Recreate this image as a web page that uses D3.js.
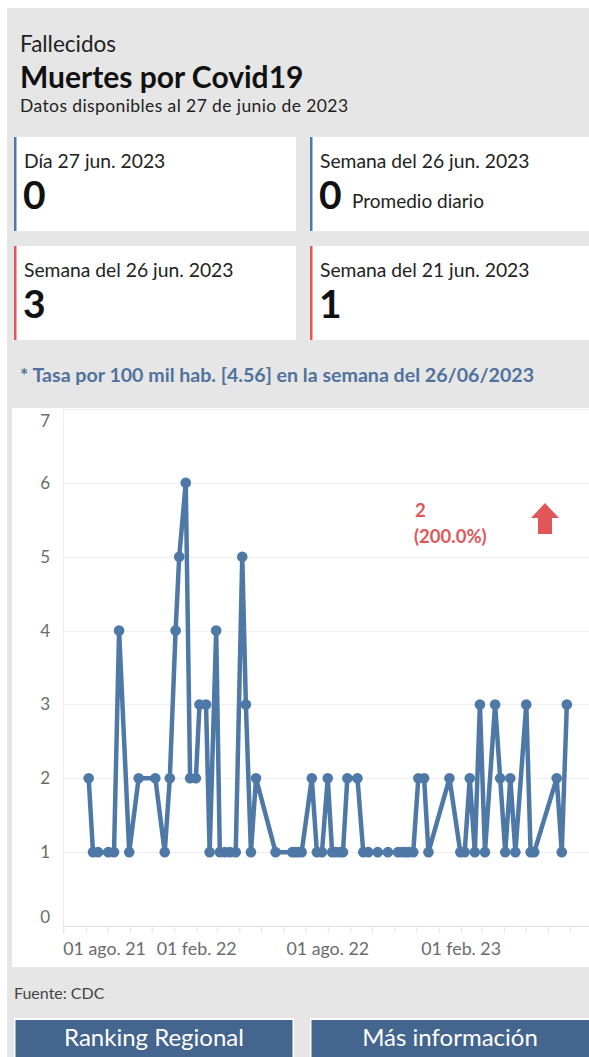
<!DOCTYPE html>
<html>
<head>
<meta charset="utf-8">
<script src="https://cdn.jsdelivr.net/npm/d3@7"></script>
<style>
  html, body { margin: 0; padding: 0; background: #fff; }
  svg { display: block; font-family: Lato, "Open Sans", sans-serif; }
</style>
</head>
<body>
<div id="chart"></div>
<script>
// fechas con fallecidos (los días sin muertes no se reportan)
const dates = [
  "2021-09-05","2021-09-11","2021-09-18","2021-10-02","2021-10-10","2021-10-17","2021-10-31","2021-11-13",
  "2021-12-06","2021-12-19","2021-12-26","2022-01-03","2022-01-08","2022-01-17","2022-01-23","2022-01-31",
  "2022-02-05","2022-02-14","2022-02-19","2022-02-28","2022-03-05","2022-03-12","2022-03-19","2022-03-27",
  "2022-04-05","2022-04-10","2022-04-17","2022-04-24","2022-05-21","2022-06-13","2022-06-17","2022-06-21",
  "2022-06-26","2022-07-10","2022-07-17","2022-07-24","2022-08-01","2022-08-07","2022-08-12","2022-08-18",
  "2022-08-22","2022-08-28","2022-09-11","2022-09-19","2022-09-26","2022-10-09","2022-10-23","2022-11-06",
  "2022-11-12","2022-11-17","2022-11-21","2022-11-27","2022-12-04","2022-12-12","2022-12-18","2023-01-16",
  "2023-01-31","2023-02-06","2023-02-13","2023-02-20","2023-02-27","2023-03-06","2023-03-20","2023-03-27",
  "2023-04-03","2023-04-10","2023-04-17","2023-05-02","2023-05-08","2023-05-13","2023-06-13","2023-06-20",
  "2023-06-27"
];
const deaths = [
  2,1,1,1,1,4,1,2,
  2,1,2,4,5,6,2,2,
  3,3,1,4,1,1,1,1,
  5,3,1,2,1,1,1,1,
  1,2,1,1,2,1,1,1,
  1,2,2,1,1,1,1,1,
  1,1,1,1,2,2,1,2,
  1,1,2,1,3,1,3,2,
  1,2,1,3,1,1,2,1,
  3
];

const yTicks = [0, 1, 2, 3, 4, 5, 6, 7];
const xLabelDates = ["2021-08-01", "2022-02-01", "2022-08-01", "2023-02-01"];
const xLabels = ["01 ago. 21", "01 feb. 22", "01 ago. 22", "01 feb. 23"];

const kpiLabels = ["Día 27 jun. 2023", "Semana del 26 jun. 2023", "Semana del 26 jun. 2023", "Semana del 21 jun. 2023"];
const kpiValues = ["0", "0", "3", "1"];
const kpiNotes = ["", "Promedio diario", "", ""];
const kpiColors = ["#4e79a7", "#4e79a7", "#e15759", "#e15759"];

const changeValue = "2";
const changePct = "(200.0%)";

const W = 589, H = 1057;
const parse = d3.timeParse("%Y-%m-%d");
const data = dates.map((d, i) => ({ date: parse(d), value: deaths[i] }));

const svg = d3.select("#chart").append("svg")
  .attr("width", W).attr("height", H);

// panel gris de fondo
svg.append("rect").attr("x", 7).attr("y", 8).attr("width", W).attr("height", H)
  .attr("fill", "#e6e6e6");

// encabezado
svg.append("text").attr("x", 20).attr("y", 52).attr("font-size", 22.5).attr("fill", "#222")
  .text("Fallecidos");
svg.append("text").attr("x", 20).attr("y", 87.5).attr("font-size", 30).attr("font-weight", 700).attr("fill", "#111")
  .text("Muertes por Covid19");
svg.append("text").attr("x", 20).attr("y", 111.5).attr("font-size", 17.5).attr("letter-spacing", 0.4)
  .attr("fill", "#222")
  .text("Datos disponibles al 27 de junio de 2023");

// tarjetas KPI
const cardX = [14, 310], cardY = [137, 246];
kpiLabels.forEach((lab, i) => {
  const x = cardX[i % 2], y = cardY[Math.floor(i / 2)];
  const g = svg.append("g").attr("transform", `translate(${x},${y})`);
  g.append("rect").attr("width", i % 2 ? 300 : 282).attr("height", 94).attr("fill", "#fff");
  g.append("rect").attr("width", 2.5).attr("height", 94).attr("fill", kpiColors[i]);
  g.append("text").attr("x", 10).attr("y", 31).attr("font-size", 19.3).attr("fill", "#222").text(lab);
  g.append("text").attr("x", 9).attr("y", 72).attr("font-size", 39).attr("font-weight", 700).attr("fill", "#111")
    .text(kpiValues[i]);
  if (kpiNotes[i]) {
    g.append("text").attr("x", 42).attr("y", 71).attr("font-size", 19).attr("fill", "#222").text(kpiNotes[i]);
  }
});

svg.append("text").attr("x", 20).attr("y", 382).attr("font-size", 19.6).attr("font-weight", 700)
  .attr("fill", "#50729c")
  .text("* Tasa por 100 mil hab. [4.56] en la semana del 26/06/2023");

// área del gráfico
svg.append("rect").attr("x", 12).attr("y", 408).attr("width", W).attr("height", 559).attr("fill", "#fff");

const x = d3.scaleTime()
  .domain([parse("2021-08-01"), parse("2023-08-01")])
  .range([63.3, 592.2]);
const y = d3.scaleLinear().domain([0, 7]).range([926, 409]);

const plot = svg.append("g");

// grilla horizontal
plot.selectAll("line.grid").data(yTicks).join("line")
  .attr("class", "grid")
  .attr("x1", x.range()[0]).attr("x2", W)
  .attr("y1", d => Math.round(y(d)) + 0.5).attr("y2", d => Math.round(y(d)) + 0.5)
  .attr("stroke", d => d === 0 ? "#e2e2e2" : "#efefef").attr("stroke-width", 1);

// eje vertical
plot.append("line")
  .attr("x1", 63.5).attr("x2", 63.5).attr("y1", 409).attr("y2", 934)
  .attr("stroke", "#ececec");

// ticks mensuales del eje x
const xAxis = d3.axisBottom(x)
  .ticks(d3.timeMonth.every(1))
  .tickSize(7)
  .tickFormat("");
const gx = plot.append("g").attr("transform", "translate(0,926)").call(xAxis);
gx.select(".domain").remove();
gx.selectAll(".tick line").attr("stroke", "#e2e2e2");

// etiquetas del eje x
plot.selectAll("text.xl").data(xLabelDates).join("text")
  .attr("class", "xl")
  .attr("x", d => x(parse(d)))
  .attr("y", 955)
  .attr("text-anchor", (d, i) => i === 0 ? "start" : "middle")
  .attr("font-size", 17.8)
  .attr("fill", "#6b6b6b")
  .text((d, i) => xLabels[i]);

// etiquetas del eje y
plot.selectAll("text.yl").data(yTicks).join("text")
  .attr("class", "yl")
  .attr("x", 50)
  .attr("y", d => Math.min(Math.max(y(d), 421), 917) + 6)
  .attr("text-anchor", "end")
  .attr("font-size", 17)
  .attr("fill", "#6b6b6b")
  .text(d => d);

// serie
const line = d3.line().x(d => x(d.date)).y(d => y(d.value));
plot.append("path").datum(data)
  .attr("d", line)
  .attr("fill", "none")
  .attr("stroke", "#4e79a7")
  .attr("stroke-width", 4.5)
  .attr("stroke-linejoin", "round");
plot.selectAll("circle.pt").data(data).join("circle")
  .attr("class", "pt")
  .attr("cx", d => x(d.date)).attr("cy", d => y(d.value))
  .attr("r", 5.3)
  .attr("fill", "#4e79a7");

// variación semanal
svg.append("text").attr("x", 415).attr("y", 517).attr("font-size", 18.5).attr("font-weight", 700)
  .attr("fill", "#e15759").text(changeValue);
svg.append("text").attr("x", 414).attr("y", 543).attr("font-size", 18.5).attr("font-weight", 700)
  .attr("fill", "#e15759").text(changePct);
svg.append("path")
  .attr("d", "M545,503 L559,518 L552,518 L552,534 L538,534 L538,518 L531,518 Z")
  .attr("fill", "#e15759");

// pie
svg.append("text").attr("x", 14).attr("y", 999).attr("font-size", 16).attr("fill", "#444")
  .text("Fuente: CDC");

const buttons = ["Ranking Regional", "Más información"];
buttons.forEach((b, i) => {
  const bx = i === 0 ? 14 : 310;
  svg.append("rect").attr("x", bx).attr("y", 1018).attr("width", i === 0 ? 280 : 300).attr("height", 50)
    .attr("fill", "#fff");
  svg.append("rect").attr("x", bx + 1.5).attr("y", 1020).attr("width", i === 0 ? 277 : 300).attr("height", 50)
    .attr("fill", "#44658d");
  svg.append("text").attr("x", i === 0 ? 154 : 450).attr("y", 1046)
    .attr("text-anchor", "middle").attr("font-size", 24).attr("fill", "#fff").text(b);
});
</script>
</body>
</html>
